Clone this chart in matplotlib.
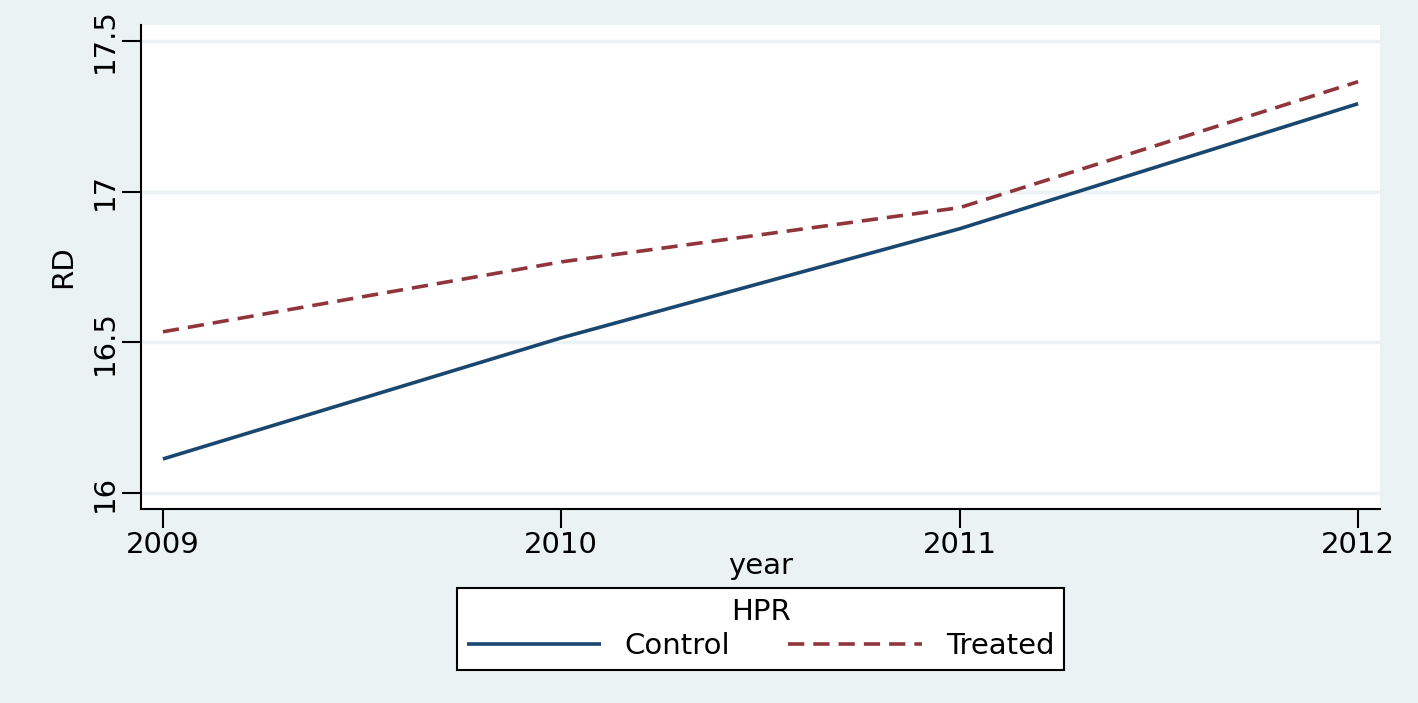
import matplotlib.pyplot as plt

plt.rcParams['font.family'] = ['DejaVu Sans']

# data
years = [2009, 2010, 2011, 2012]
control = [16.113, 16.515, 16.877, 17.292]
treated = [16.535, 16.767, 16.947, 17.365]
yticks = [16, 16.5, 17, 17.5]
ytick_labels = ['16', '16.5', '17', '17.5']

fs = 21
bg = '#eaf2f3'
fig = plt.figure(figsize=(14.18, 7.03), dpi=100, facecolor=bg)
ax = fig.add_axes([141 / 1418, 1 - 509 / 703, (1380 - 141) / 1418, (509 - 25) / 703])
ax.set_facecolor('white')

ax.plot(years, control, color='#1a476f', lw=2.6, label='Control', solid_capstyle='butt')
ax.plot(years, treated, color='#90353b', lw=2.6, ls=(0, (4.5, 2.5)), label='Treated')

ax.set_xlim(2008.945, 2012.055)
ax.set_ylim(15.947, 17.553)
ax.set_xticks(years)
ax.set_xticklabels([str(y) for y in years], fontsize=fs)
ax.set_yticks(yticks)
ax.set_yticklabels(ytick_labels, fontsize=fs, rotation=90, va='center')
ax.yaxis.grid(True, color=bg, lw=2.5)
ax.set_axisbelow(True)

for s in ['top', 'right']:
    ax.spines[s].set_visible(False)
for s in ['left', 'bottom']:
    ax.spines[s].set_linewidth(1.5)
    ax.spines[s].set_color('black')
ax.tick_params(length=14, width=1.5, pad=2)

ax.set_xlabel('year', fontsize=fs, labelpad=-5)
ax.set_ylabel('RD', fontsize=fs, labelpad=10)

leg = ax.legend(title='HPR', loc='upper center', bbox_to_anchor=(0.5, -0.163),
                ncol=2, fontsize=fs, title_fontsize=fs, frameon=True, fancybox=False,
                facecolor='white', framealpha=1, edgecolor='black',
                handlelength=4.6, columnspacing=2.0, borderpad=0.35, borderaxespad=0,
                handletextpad=0.8, labelspacing=0.2)
leg.get_frame().set_linewidth(1.5)

fig.savefig('out.png', dpi=100, facecolor=bg)
